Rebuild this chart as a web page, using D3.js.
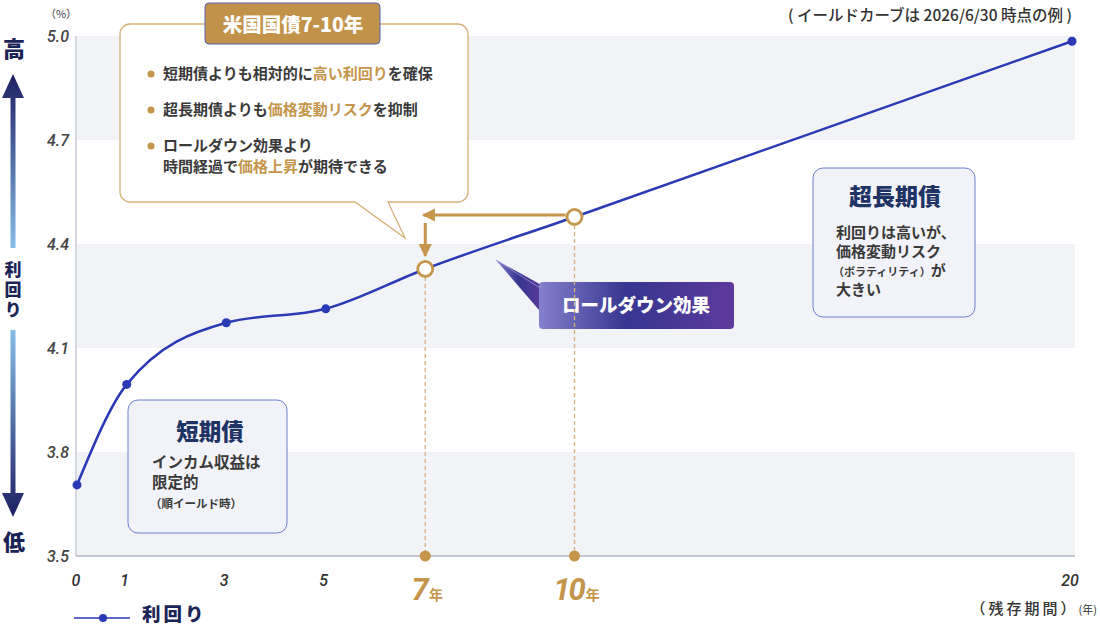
<!DOCTYPE html>
<html>
<head>
<meta charset="utf-8">
<script src="https://cdn.jsdelivr.net/npm/d3@7"></script>
<style>
  html, body { margin: 0; padding: 0; background: #fff; }
  svg { display: block; font-family: "Noto Sans CJK JP", "Noto Sans", sans-serif; }
  .num { font-family: Roboto, "Noto Sans", sans-serif; font-style: italic; }
</style>
</head>
<body>
<div id="chart"></div>
<script>
const width = 1100;
const height = 628;

// data
const years = [0, 1, 3, 5, 7, 10, 20];
const yields = [3.705, 3.995, 4.173, 4.213, 4.328, 4.478, 4.985];
const plainTicks = [0, 1, 3, 5, 20];
const focusYears = [7, 10];
const yTicks = [5.0, 4.7, 4.4, 4.1, 3.8, 3.5];
const bands = [[4.7, 5.0], [4.1, 4.4], [3.5, 3.8]];

const navy = "#1b2456";
const blue = "#2a39b4";
const gold = "#c4954a";
const goldLight = "#d6b07a";
const textDark = "#3a3a3a";

const svg = d3.select("#chart").append("svg")
  .attr("width", width).attr("height", height);

const x = d3.scaleLinear().domain([0, 20]).range([77, 1072]);
const y = d3.scaleLinear().domain([3.5, 5.0]).range([556, 36]);
const plotRight = 1075;

const defs = svg.append("defs");
const gUp = defs.append("linearGradient").attr("id", "gUp").attr("x1", 0).attr("y1", 0).attr("x2", 0).attr("y2", 1);
gUp.append("stop").attr("offset", "0%").attr("stop-color", "#1e1f63");
gUp.append("stop").attr("offset", "100%").attr("stop-color", "#86bde6");
const gDown = defs.append("linearGradient").attr("id", "gDown").attr("x1", 0).attr("y1", 0).attr("x2", 0).attr("y2", 1);
gDown.append("stop").attr("offset", "0%").attr("stop-color", "#86bde6");
gDown.append("stop").attr("offset", "100%").attr("stop-color", "#1e1f63");
const gRoll = defs.append("linearGradient").attr("id", "gRoll").attr("x1", 0).attr("y1", 0).attr("x2", 1).attr("y2", 0);
gRoll.append("stop").attr("offset", "0%").attr("stop-color", "#8580cc");
gRoll.append("stop").attr("offset", "45%").attr("stop-color", "#363690");
gRoll.append("stop").attr("offset", "100%").attr("stop-color", "#5e3a9c");

defs.append("marker")
  .attr("id", "goldHead")
  .attr("viewBox", "0 0 10 10")
  .attr("refX", 9).attr("refY", 5)
  .attr("markerWidth", 4.5).attr("markerHeight", 4.5)
  .attr("markerUnits", "strokeWidth")
  .attr("orient", "auto")
  .append("path").attr("d", "M0,0 L10,5 L0,10 Z").attr("fill", gold);

// background bands
svg.append("g").selectAll("rect").data(bands).join("rect")
  .attr("x", x(0)).attr("width", plotRight - x(0))
  .attr("y", d => y(d[1])).attr("height", d => y(d[0]) - y(d[1]))
  .attr("fill", "#f2f3f7");

// axis lines
svg.append("line").attr("x1", x(0) - 1).attr("x2", x(0) - 1).attr("y1", y(5.0)).attr("y2", y(3.5))
  .attr("stroke", "#b9bdc9").attr("stroke-width", 1.2);
svg.append("line").attr("x1", x(0) - 1).attr("x2", plotRight).attr("y1", y(3.5)).attr("y2", y(3.5))
  .attr("stroke", "#b0b4c0").attr("stroke-width", 1.5);

// y tick labels
svg.append("g").selectAll("text").data(yTicks).join("text")
  .attr("class", "num")
  .attr("x", 69).attr("y", d => y(d) + 6)
  .attr("text-anchor", "end")
  .attr("font-size", 16).attr("font-weight", 500)
  .attr("fill", "#444")
  .text(d => d.toFixed(1));

svg.append("text").attr("x", 61).attr("y", 18).attr("text-anchor", "middle")
  .attr("font-size", 11).attr("fill", "#444").text("（%）");

// x tick labels
svg.append("g").selectAll("text").data(plainTicks).join("text")
  .attr("class", "num")
  .attr("x", d => x(d) - (d === 0 ? 1 : 2)).attr("y", 586)
  .attr("text-anchor", "middle")
  .attr("font-size", 16).attr("font-weight", 500)
  .attr("fill", "#333")
  .text(d => d);

const focusLab = svg.append("g").selectAll("text").data(focusYears).join("text")
  .attr("x", d => x(d) + 2).attr("y", 600)
  .attr("text-anchor", "middle")
  .attr("fill", gold);
focusLab.append("tspan").attr("class", "num").attr("font-size", 31).attr("font-weight", 700).attr("letter-spacing", -2).text(d => d);
focusLab.append("tspan").attr("font-size", 14).attr("font-weight", 700).attr("dx", 2).text("年");

const unit = svg.append("text").attr("x", 1097).attr("y", 614).attr("text-anchor", "end").attr("fill", "#333");
unit.append("tspan").attr("font-size", 15).attr("font-weight", 500).attr("letter-spacing", 3).text("（残存期間）");
unit.append("tspan").attr("font-size", 11).text("(年)");

svg.append("text").attr("x", 1072).attr("y", 21).attr("text-anchor", "end")
  .attr("font-size", 15.5).attr("font-weight", 500).attr("fill", "#333")
  .text("( イールドカーブは 2026/6/30 時点の例 )");

// left vertical indicator
svg.append("text").attr("x", 14).attr("y", 57).attr("text-anchor", "middle")
  .attr("font-size", 22).attr("font-weight", 900).attr("fill", navy).text("高");
svg.append("text").attr("x", 14).attr("y", 550).attr("text-anchor", "middle")
  .attr("font-size", 22).attr("font-weight", 900).attr("fill", navy).text("低");
svg.append("path").attr("d", "M13,74 L24,98 L15.5,98 L15.5,248 L10.5,248 L10.5,98 L2,98 Z")
  .attr("fill", "url(#gUp)");
svg.append("path").attr("d", "M10.5,330 L15.5,330 L15.5,493 L24,493 L13,517 L2,493 L10.5,493 Z")
  .attr("fill", "url(#gDown)");
svg.append("text").attr("x", 13).attr("y", 261)
  .style("writing-mode", "vertical-rl")
  .attr("letter-spacing", 3)
  .attr("font-size", 17).attr("font-weight", 900).attr("fill", navy)
  .text("利回り");

// short-term box
svg.append("rect").attr("x", 128).attr("y", 400).attr("width", 159).attr("height", 133).attr("rx", 10)
  .attr("fill", "#f2f3f8").attr("stroke", "#6f7fd2").attr("stroke-width", 1);
svg.append("text").attr("x", 210).attr("y", 440).attr("text-anchor", "middle")
  .attr("font-size", 22.5).attr("font-weight", 900).attr("fill", "#1d3464").text("短期債");
svg.append("text").attr("x", 152).attr("y", 468).attr("font-size", 15.5).attr("font-weight", 700).attr("fill", textDark).text("インカム収益は");
svg.append("text").attr("x", 152).attr("y", 488).attr("font-size", 15.5).attr("font-weight", 700).attr("fill", textDark).text("限定的");
svg.append("text").attr("x", 150).attr("y", 508).attr("font-size", 11.5).attr("font-weight", 700).attr("fill", textDark).text("（順イールド時）");

// long-term box
svg.append("rect").attr("x", 813).attr("y", 168).attr("width", 162).attr("height", 149).attr("rx", 10)
  .attr("fill", "#f2f3f8").attr("stroke", "#6f7fd2").attr("stroke-width", 1);
svg.append("text").attr("x", 895).attr("y", 205).attr("text-anchor", "middle")
  .attr("font-size", 23).attr("font-weight", 900).attr("fill", "#1d3464").text("超長期債");
const longLines = ["利回りは高いが、", "価格変動リスク", null, "大きい"];
longLines.forEach((t, i) => {
  if (t) svg.append("text").attr("x", 836).attr("y", 238 + i * 19).attr("font-size", 15).attr("font-weight", 700).attr("fill", textDark).text(t);
});
const vol = svg.append("text").attr("x", 833).attr("y", 276).attr("fill", textDark).attr("font-weight", 700);
vol.append("tspan").attr("font-size", 11).text("（ボラティリティ）");
vol.append("tspan").attr("font-size", 15).text("が");

// main callout
const L = 120, T = 24, R = 468, B = 202, r = 10;
const cp = d3.path();
cp.moveTo(L + r, T);
cp.lineTo(R - r, T); cp.arcTo(R, T, R, T + r, r);
cp.lineTo(R, B - r); cp.arcTo(R, B, R - r, B, r);
cp.lineTo(388, B); cp.lineTo(405, 238); cp.lineTo(355, B);
cp.lineTo(L + r, B); cp.arcTo(L, B, L, B - r, r);
cp.lineTo(L, T + r); cp.arcTo(L, T, L + r, T, r);
cp.closePath();
svg.append("path").attr("d", cp.toString()).attr("fill", "#fff").attr("stroke", goldLight).attr("stroke-width", 1.3);

svg.append("rect").attr("x", 205).attr("y", 3).attr("width", 175).attr("height", 41).attr("rx", 4)
  .attr("fill", "#c2924a").attr("stroke", "#5a63b0").attr("stroke-width", 1);
svg.append("text").attr("x", 293).attr("y", 32).attr("text-anchor", "middle")
  .attr("font-size", 19.5).attr("font-weight", 900).attr("fill", "#fff").text("米国国債7-10年");

const bullets = [
  [["短期債よりも相対的に", 0], ["高い利回り", 1], ["を確保", 0]],
  [["超長期債よりも", 0], ["価格変動リスク", 1], ["を抑制", 0]],
  [["ロールダウン効果より", 0]],
  [["時間経過で", 0], ["価格上昇", 1], ["が期待できる", 0]]
];
const bulletY = [79, 115, 151, 172];
bullets.forEach((parts, i) => {
  const t = svg.append("text").attr("x", 163).attr("y", bulletY[i])
    .attr("font-size", 15).attr("font-weight", 700).attr("fill", textDark);
  parts.forEach(p => t.append("tspan").attr("fill", p[1] ? gold : textDark).text(p[0]));
  if (i < 3) svg.append("circle").attr("cx", 151).attr("cy", bulletY[i] - 5).attr("r", 3.5).attr("fill", gold);
});

// roll-down label
svg.append("path").attr("d", "M496,260 L545,287 L545,317 Z").attr("fill", "url(#gRoll)");
svg.append("rect").attr("x", 539).attr("y", 282).attr("width", 195).attr("height", 47).attr("rx", 4)
  .attr("fill", "url(#gRoll)");
svg.append("path").attr("d", "M496,260 L540,288").attr("stroke", "#9a96d6").attr("stroke-width", 0.8);
svg.append("text").attr("x", 636).attr("y", 312).attr("text-anchor", "middle")
  .attr("font-size", 18.5).attr("font-weight", 900).attr("fill", "#fff").text("ロールダウン効果");

// dashed drop lines and axis dots
const focus = focusYears.map(f => ({ yr: f, v: yields[years.indexOf(f)] }));
svg.append("g").selectAll("line").data(focus).join("line")
  .attr("x1", d => x(d.yr)).attr("x2", d => x(d.yr))
  .attr("y1", d => y(d.v) + 8).attr("y2", y(3.5))
  .attr("stroke", goldLight).attr("stroke-width", 1.3).attr("stroke-dasharray", "4,3");
svg.append("g").selectAll("circle").data(focus).join("circle")
  .attr("cx", d => x(d.yr)).attr("cy", y(3.5)).attr("r", 5.5).attr("fill", gold);

// curve
const line = d3.line().x((d, i) => x(years[i])).y(d => y(d)).curve(d3.curveMonotoneX);
svg.append("path").datum(yields).attr("d", line)
  .attr("fill", "none").attr("stroke", blue).attr("stroke-width", 2.5);

const plain = years.map((yr, i) => ({ yr, v: yields[i] })).filter(d => !focusYears.includes(d.yr));
svg.append("g").selectAll("circle").data(plain).join("circle")
  .attr("cx", d => x(d.yr)).attr("cy", d => y(d.v)).attr("r", 4.5).attr("fill", blue);

// roll-down arrows
const p7 = focus[0], p10 = focus[1];
svg.append("line").attr("x1", x(p10.yr) - 9).attr("x2", x(p7.yr) - 2)
  .attr("y1", y(p10.v) - 2).attr("y2", y(p10.v) - 2)
  .attr("stroke", gold).attr("stroke-width", 3).attr("marker-end", "url(#goldHead)");
svg.append("line").attr("x1", x(p7.yr)).attr("x2", x(p7.yr))
  .attr("y1", 223).attr("y2", y(p7.v) - 13)
  .attr("stroke", gold).attr("stroke-width", 3).attr("marker-end", "url(#goldHead)");

svg.append("g").selectAll("circle").data(focus).join("circle")
  .attr("cx", d => x(d.yr)).attr("cy", d => y(d.v)).attr("r", 7.5)
  .attr("fill", "#fff").attr("stroke", gold).attr("stroke-width", 2.8);

// legend
svg.append("line").attr("x1", 74).attr("x2", 130).attr("y1", 618).attr("y2", 618).attr("stroke", blue).attr("stroke-width", 1.5);
svg.append("circle").attr("cx", 103).attr("cy", 618).attr("r", 4).attr("fill", blue);
svg.append("text").attr("x", 142).attr("y", 621).attr("font-size", 18.5).attr("font-weight", 900)
  .attr("letter-spacing", 3).attr("fill", navy).text("利回り");
</script>
</body>
</html>
